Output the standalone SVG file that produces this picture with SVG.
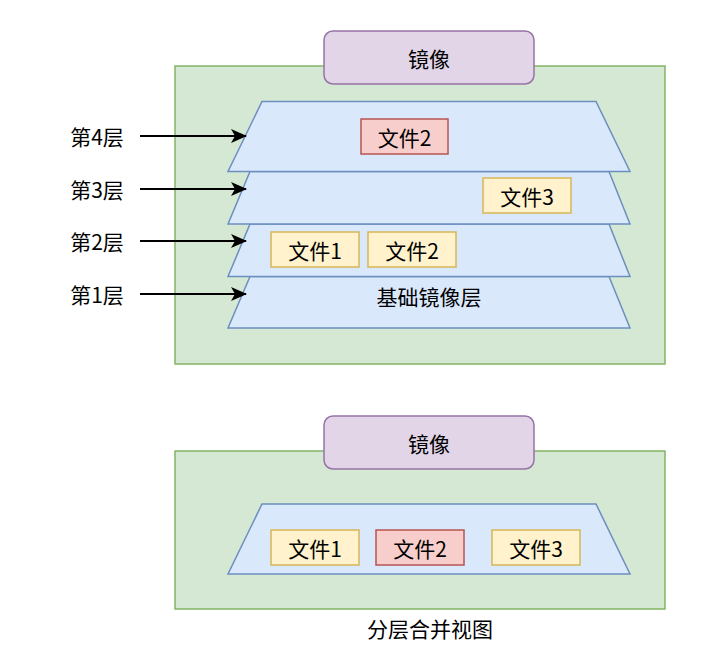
<svg xmlns="http://www.w3.org/2000/svg" width="724" height="662" viewBox="0 0 724 662">
<defs>
<style>
.container{fill:#d5e8d4;stroke:#82b366;stroke-width:1.5}
.image{fill:#e1d5e7;stroke:#9673a6;stroke-width:1.5}
.layer{fill:#dae8fc;stroke:#6c8ebf;stroke-width:1.5;stroke-linejoin:miter}
.file{fill:#fff2cc;stroke:#d6b656;stroke-width:1.5}
.mod{fill:#f8cecc;stroke:#b85450;stroke-width:1.5}
text{font-family:"Noto Sans CJK SC","Noto Sans",sans-serif;font-size:21px;fill:#000;text-anchor:middle;dominant-baseline:central}
.edge{stroke:#000;stroke-width:2;fill:none}
</style>
<marker id="arrow" viewBox="0 0 16 14" refX="15" refY="7" markerWidth="16" markerHeight="14" markerUnits="userSpaceOnUse" orient="auto">
<path d="M0,0 L16,7 L0,14 L4,7 Z" fill="#000"/>
</marker>
</defs>

<g id="top-container"><rect class="container" x="175" y="66" width="490" height="298"/></g>
<g id="top-image"><rect class="image" x="324" y="31" width="210" height="53" rx="9"/><text x="429" y="57.5">镜像</text></g>

<g id="layer1"><polygon class="layer" points="250,276.5 609,276.5 630,328 228,328"/><text x="429" y="296">基础镜像层</text></g>
<g id="layer2"><polygon class="layer" points="250,224 609,224 630,276.5 228,276.5"/></g>
<g id="layer3"><polygon class="layer" points="250,171.5 609,171.5 630,224 228,224"/></g>
<g id="layer4"><polygon class="layer" points="262,101.5 596,101.5 630,171.5 228,171.5"/></g>

<g id="l4-file2"><rect class="mod" x="361" y="119" width="87" height="35"/><text x="404.5" y="136.5">文件2</text></g>
<g id="l3-file3"><rect class="file" x="483" y="178" width="88" height="35"/><text x="527" y="195.5">文件3</text></g>
<g id="l2-file1"><rect class="file" x="271" y="232" width="88" height="35"/><text x="315" y="249.5">文件1</text></g>
<g id="l2-file2"><rect class="file" x="368" y="232" width="88" height="35"/><text x="412" y="249.5">文件2</text></g>

<g id="label4"><text x="97" y="136">第4层</text></g>
<g id="label3"><text x="97" y="189">第3层</text></g>
<g id="label2"><text x="97" y="241">第2层</text></g>
<g id="label1"><text x="97" y="294">第1层</text></g>

<g id="connectors">
<line class="edge" x1="140" y1="136" x2="246" y2="136" marker-end="url(#arrow)"/>
<line class="edge" x1="140" y1="189" x2="246" y2="189" marker-end="url(#arrow)"/>
<line class="edge" x1="140" y1="241" x2="246" y2="241" marker-end="url(#arrow)"/>
<line class="edge" x1="140" y1="294" x2="246" y2="294" marker-end="url(#arrow)"/>
</g>

<g id="bottom-container"><rect class="container" x="175" y="451" width="490" height="158"/></g>
<g id="bottom-image"><rect class="image" x="324" y="416" width="210" height="53" rx="9"/><text x="429" y="442.5">镜像</text></g>
<g id="merged-layer"><polygon class="layer" points="262,504 596,504 630,574 228,574"/></g>
<g id="m-file1"><rect class="file" x="271" y="530" width="88" height="35"/><text x="315" y="547.5">文件1</text></g>
<g id="m-file2"><rect class="mod" x="376" y="530" width="88" height="35"/><text x="420" y="547.5">文件2</text></g>
<g id="m-file3"><rect class="file" x="492" y="530" width="88" height="35"/><text x="536" y="547.5">文件3</text></g>
<g id="caption"><text x="430" y="628">分层合并视图</text></g>
</svg>
